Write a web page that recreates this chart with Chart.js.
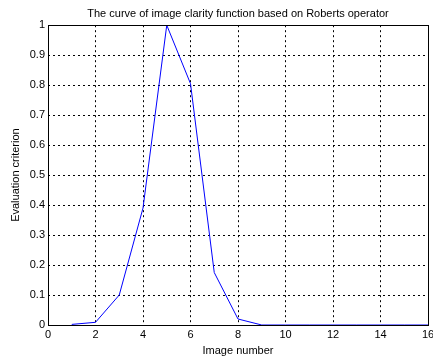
<!DOCTYPE html>
<html>
<head>
<meta charset="utf-8">
<script src="https://cdn.jsdelivr.net/npm/chart.js@4"></script>
<style>
  body { margin: 0; background: #fff; }
  #wrap { width: 433px; height: 358px; }
</style>
</head>
<body>
<div id="wrap"><canvas id="clarityChart"></canvas></div>
<script>
const imageNumbers = [1, 2, 3, 4, 5, 6, 7, 8, 9, 10, 11, 12, 13, 14, 15, 16];
const clarityValues = [0.002, 0.009, 0.10, 0.39, 1.0, 0.805, 0.175, 0.02, 0.0, 0.0, 0.0, 0.0, 0.0, 0.0, 0.0, 0.0];

const font = { family: 'Arial, "Liberation Sans", sans-serif', size: 11, weight: 'normal' };

// box around the plot area, like a matlab axes
const boxPlugin = {
  id: 'box',
  afterDraw(chart) {
    const a = chart.chartArea;
    const ctx = chart.ctx;
    ctx.save();
    ctx.strokeStyle = '#000';
    ctx.lineWidth = 1;
    ctx.strokeRect(Math.round(a.left) + 0.5, Math.round(a.top) + 0.5,
      Math.round(a.right - a.left), Math.round(a.bottom - a.top));
    ctx.restore();
  }
};

const ctx = document.getElementById('clarityChart').getContext('2d');
new Chart(ctx, {
  type: 'line',
  data: {
    datasets: [{
      data: imageNumbers.map((x, i) => ({ x: x, y: clarityValues[i] })),
      borderColor: '#0000ff',
      borderWidth: 1,
      pointRadius: 0,
      tension: 0,
      fill: false
    }]
  },
  options: {
    responsive: true,
    maintainAspectRatio: false,
    animation: false,
    layout: { padding: 0 },
    plugins: {
      legend: { display: false },
      tooltip: { enabled: false },
      title: {
        display: true,
        fullSize: false,
        align: 'center',
        text: 'The curve of image clarity function based on Roberts operator',
        color: '#000',
        font: font,
        padding: { top: 7, bottom: 5 }
      }
    },
    scales: {
      x: {
        type: 'linear',
        min: 0,
        max: 16,
        ticks: { stepSize: 2, color: '#000', font: font, padding: 3, maxRotation: 0 },
        grid: { color: '#000', drawTicks: false },
        border: { dash: [2, 3], display: false },
        title: { display: true, text: 'Image number', color: '#000', font: font, padding: { top: 2, bottom: 0 } },
        afterFit(scale) {
          scale.height = 33;
          scale.paddingRight = 5;
        }
      },
      y: {
        min: 0,
        max: 1,
        ticks: {
          stepSize: 0.1, color: '#000', font: font, padding: 3,
          callback: v => String(Number(v.toFixed(1)))
        },
        grid: { color: '#000', drawTicks: false },
        border: { dash: [2, 3], display: false },
        title: { display: true, text: 'Evaluation criterion', color: '#000', font: font, padding: { top: 9, bottom: 0 } },
        afterFit(scale) { scale.width = 48; }
      }
    }
  },
  plugins: [boxPlugin]
});
</script>
</body>
</html>
